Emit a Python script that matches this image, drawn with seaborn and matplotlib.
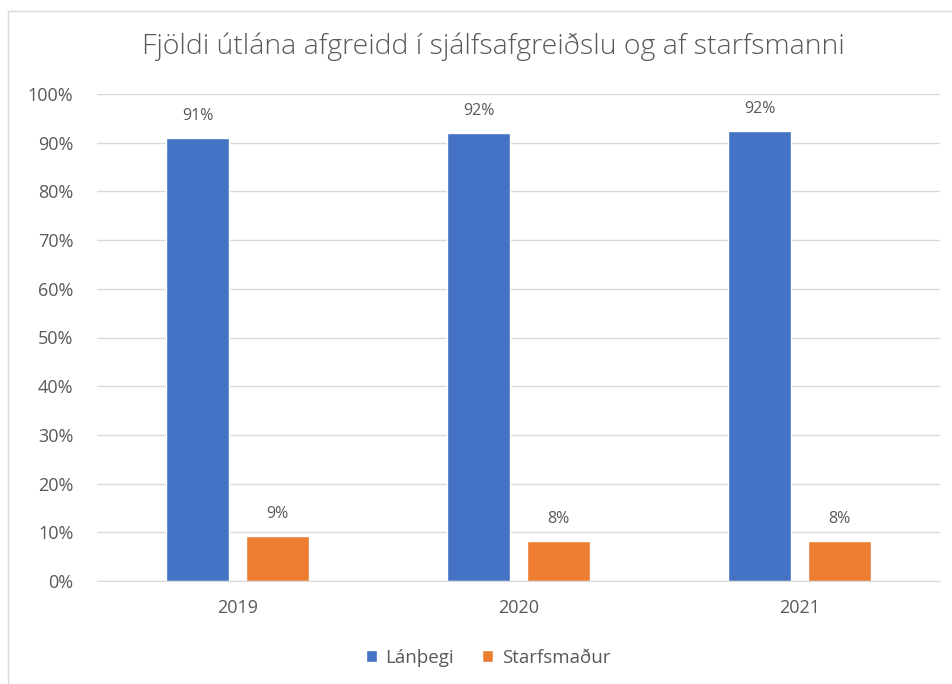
import pandas as pd
import numpy as np
import matplotlib.pyplot as plt
import seaborn as sns
from matplotlib.patches import Rectangle

# gögn
years = ["2019", "2020", "2021"]
lanthegi = [91.0, 92.0, 92.4]
starfsmadur = [9.2, 8.2, 8.2]
labels_lanthegi = ["91%", "92%", "92%"]
labels_starfsmadur = ["9%", "8%", "8%"]
series_names = ["Lánþegi", "Starfsmaður"]
colors = ["#4472C4", "#ED7D31"]

df = pd.DataFrame({
    "year": years * 2,
    "value": lanthegi + starfsmadur,
    "series": [series_names[0]] * 3 + [series_names[1]] * 3,
})

sns.set_style("white")
plt.rcParams["font.family"] = ["Open Sans", "DejaVu Sans"]
grey = "#595959"

fig = plt.figure(figsize=(9.52, 6.84), dpi=100)
ax = fig.add_axes([97/952, 1 - 581/684, (940-97)/952, (581-94)/684])

sns.barplot(data=df, x="year", y="value", hue="series", palette=colors,
            width=0.57, gap=0.21, ax=ax, saturation=1, legend=True)

ax.set_xlim(-0.5, 2.5)
ax.set_ylim(0, 100)
ax.set_yticks(np.arange(0, 101, 10))
ax.set_yticklabels([f"{v}%" for v in range(0, 101, 10)])
ax.yaxis.grid(True, color="#D9D9D9", linewidth=1)
ax.set_axisbelow(True)
for s in ax.spines.values():
    s.set_visible(False)
ax.spines["bottom"].set_visible(True)
ax.spines["bottom"].set_color("#D9D9D9")
ax.tick_params(axis="y", length=0, pad=17, labelsize=13, labelcolor=grey)
ax.tick_params(axis="x", length=0, pad=13, labelsize=13, labelcolor=grey)
ax.set_xlabel("")
ax.set_ylabel("")

for cont, labs in zip(ax.containers, [labels_lanthegi, labels_starfsmadur]):
    ax.bar_label(cont, labels=labs, padding=10, fontsize=11.5, color=grey)

leg = ax.legend(loc="center", bbox_to_anchor=(488/952, 1 - 658/684),
                bbox_transform=fig.transFigure, ncol=2, frameon=False,
                fontsize=13.5, handlelength=0.6, handleheight=0.6,
                handletextpad=0.45, columnspacing=1.5)
for t in leg.get_texts():
    t.set_color(grey)

fig.text(493/952, 1 - 47/684, "Fjöldi útlána afgreidd í sjálfsafgreiðslu og af starfsmanni",
         ha="center", va="center", fontsize=20.5, color=grey, fontweight="light")

fig.patches.append(Rectangle((8/952, -0.01), 1, 1.01 - 11/684, transform=fig.transFigure,
                             fill=False, edgecolor="#D9D9D9", linewidth=1))

plt.savefig("out.png", dpi=100)
